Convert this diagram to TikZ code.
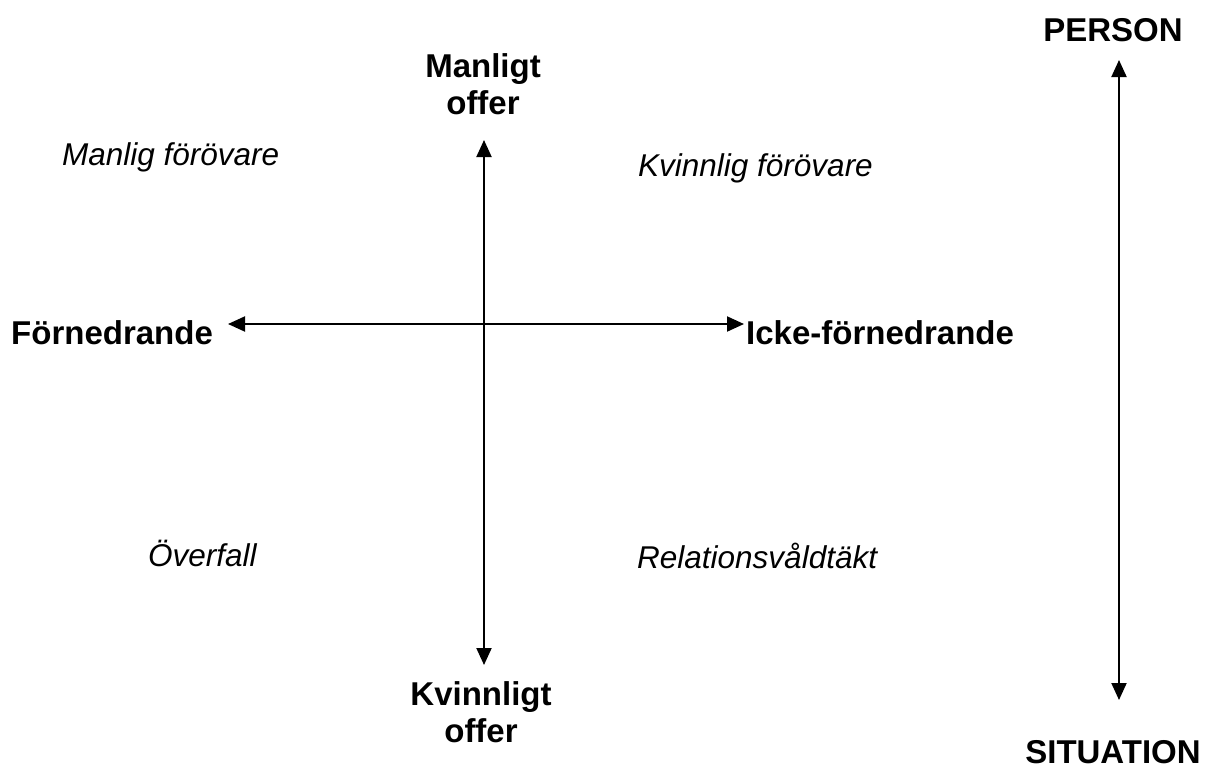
\documentclass[tikz,border=0pt]{standalone}
\usepackage{fontspec}
\setmainfont{Liberation Sans}
\usetikzlibrary{arrows.meta}
\begin{document}
\begin{tikzpicture}[x=1pt,y=-1pt,
  lbl/.style={font=\fontsize{33}{37}\selectfont\bfseries, align=center, inner sep=0pt},
  itl/.style={font=\fontsize{31.5}{37}\selectfont\itshape, inner sep=0pt, anchor=west},
  axis/.style={line width=2pt, {Triangle[length=17pt,width=15pt]}-{Triangle[length=17pt,width=15pt]}}]
\useasboundingbox (0,0) rectangle (1221,769);
\node[lbl] (person) at (1113,30) {PERSON};
\node[lbl] (situation) at (1113,752) {SITUATION};
\node[lbl] (manl) at (483,84) {Manligt\\offer};
\node[lbl] (kvinn) at (481,712) {Kvinnligt\\offer};
\node[lbl, anchor=west] (forn) at (11,333) {Förnedrande};
\node[lbl, anchor=west] (icke) at (746,333) {Icke-förnedrande};
\node[itl] (mf) at (62,157) {Manlig förövare};
\node[itl] (kf) at (638,168) {Kvinnlig förövare};
\node[itl] (ov) at (148,553) {Överfall};
\node[itl] (rv) at (637,556) {Relationsvåldtäkt};
\coordinate (ptop) at (1119,60);
\coordinate (pbot) at (1119,700);
\draw[axis] (ptop) -- (pbot);
\coordinate (mtop) at (484,140);
\coordinate (mbot) at (484,665);
\draw[axis] (mtop) -- (mbot);
\coordinate (hleft) at (228,324);
\coordinate (hright) at (744,324);
\draw[axis] (hleft) -- (hright);
\end{tikzpicture}
\end{document}
